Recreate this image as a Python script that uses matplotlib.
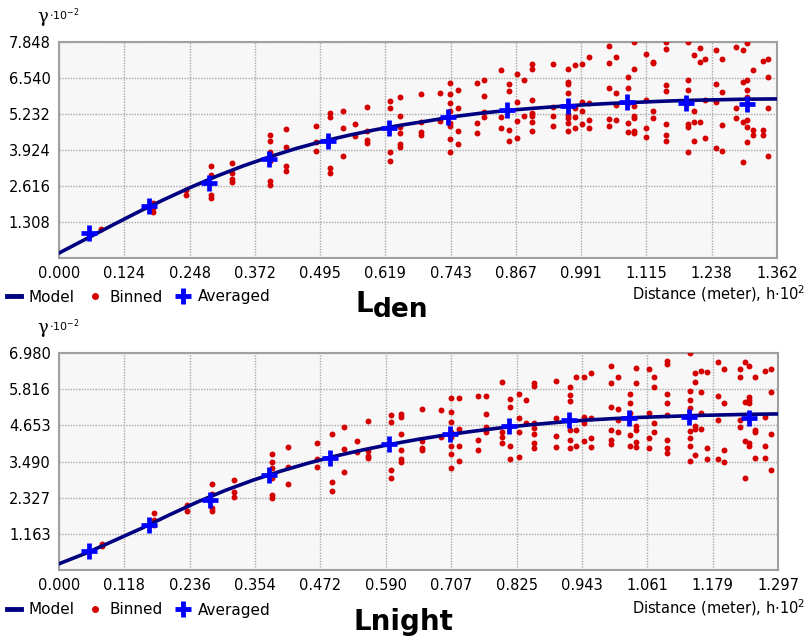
import numpy as np
import matplotlib
matplotlib.use("Agg")
import matplotlib.pyplot as plt
from matplotlib.lines import Line2D

# ---------------- data ----------------
# Lden panel
lden_xmax = 1.362
lden_ymax = 7.848
lden_xticklabels = ["0.000", "0.124", "0.248", "0.372", "0.495", "0.619", "0.743",
                    "0.867", "0.991", "1.115", "1.238", "1.362"]
lden_yticklabels = ["1.308", "2.616", "3.924", "5.232", "6.540", "7.848"]

lden_model_x = [0.0, 0.05, 0.10, 0.15, 0.20, 0.25, 0.30, 0.35, 0.40, 0.45, 0.50, 0.55,
                0.60, 0.65, 0.70, 0.75, 0.80, 0.85, 0.90, 0.95, 1.00, 1.05, 1.10, 1.15,
                1.20, 1.25, 1.30, 1.362]
lden_model_y = [0.18, 0.68, 1.18, 1.67, 2.13, 2.57, 2.98, 3.35, 3.68, 3.98, 4.24, 4.46,
                4.66, 4.83, 4.98, 5.14, 5.26, 5.36, 5.44, 5.51, 5.57, 5.62, 5.66, 5.70,
                5.73, 5.75, 5.77, 5.78]

lden_avg_x = [0.056, 0.170, 0.284, 0.398, 0.510, 0.626, 0.737, 0.850, 0.966, 1.078, 1.190, 1.306]
lden_avg_y = [0.90, 1.90, 2.71, 3.59, 4.26, 4.71, 5.11, 5.38, 5.54, 5.68, 5.64, 5.60]

lden_bin_x = [0.080, 0.179, 0.241, 0.289, 0.329, 0.401, 0.431, 0.488, 0.515, 0.538, 0.562,
              0.584, 0.627, 0.646, 0.687, 0.722, 0.741, 0.757, 0.792, 0.807, 0.839, 0.853,
              0.869, 0.882, 0.898, 0.938, 0.966, 0.978, 0.992, 1.006, 1.043, 1.056, 1.080,
              1.091, 1.114, 1.126, 1.151, 1.194, 1.204, 1.215, 1.225, 1.247, 1.258, 1.285,
              1.298, 1.305, 1.317, 1.335, 1.345]
lden_bin_y = [
    [1.04], [2.00, 1.83, 1.66], [2.47, 2.29], [3.34, 3.02, 2.29, 2.19],
    [3.44, 3.08, 2.86, 2.77], [4.47, 4.26, 3.84, 3.54, 2.80, 2.65], [4.68, 4.05, 3.34, 3.17],
    [4.81, 4.23, 3.89], [5.26, 5.14, 3.28, 3.08], [5.34, 4.71, 3.72], [4.87, 4.45],
    [5.50, 4.61, 4.29, 4.19], [5.70, 5.44, 3.84, 3.54], [5.84, 5.17, 4.75, 4.53, 4.13, 4.05],
    [5.96, 4.95, 4.56, 4.47], [6.01, 4.98], [6.35, 5.95, 5.64, 5.35, 4.89, 4.80, 4.31, 3.84],
    [6.10, 5.44, 4.63, 4.14], [6.37, 4.92, 4.55], [6.47, 5.90, 5.32, 5.14], [6.83, 5.14, 4.71],
    [6.31, 6.08, 4.65, 4.26], [6.67, 5.68, 4.98, 4.35], [6.47, 5.16],
    [7.05, 6.87, 5.74, 5.28, 5.16, 4.95, 4.63], [7.04, 5.50, 5.17, 4.81],
    [6.86, 6.41, 6.31, 6.01, 5.20, 5.08, 4.89, 4.63], [7.01, 5.44, 5.14, 4.71],
    [7.04, 5.66, 5.34, 4.87], [7.29, 5.62, 5.01, 4.71], [7.70, 7.07, 6.17, 5.05, 4.81],
    [7.29, 6.01, 5.56, 5.01], [6.57, 6.17, 5.62, 4.89, 4.57],
    [7.86, 6.87, 5.53, 5.17, 5.08, 4.63, 4.53], [7.43, 5.74, 4.71, 4.41],
    [7.13, 7.07, 5.34, 5.08], [7.86, 7.58, 6.29, 6.08, 4.87, 4.47, 4.26],
    [7.86, 6.47, 6.10, 5.62, 4.87, 4.75, 3.84], [7.37, 5.34, 4.95, 4.26], [7.64, 7.13, 4.95],
    [7.23, 5.74, 4.35], [7.56, 6.31, 5.68, 3.98], [7.23, 6.04, 4.83, 3.90], [7.65, 5.44, 5.08],
    [7.56, 6.41, 4.95, 3.50], [7.80, 6.47, 6.10, 5.86, 5.01, 4.75, 4.23], [6.83, 4.65, 4.47],
    [7.17, 4.65, 4.47], [7.23, 6.57, 5.44, 3.71]]

# Lnight panel
lnight_xmax = 1.297
lnight_ymax = 6.980
lnight_xticklabels = ["0.000", "0.118", "0.236", "0.354", "0.472", "0.590", "0.707",
                      "0.825", "0.943", "1.061", "1.179", "1.297"]
lnight_yticklabels = ["1.163", "2.327", "3.490", "4.653", "5.816", "6.980"]

lnight_model_x = [0.0, 0.05, 0.10, 0.15, 0.20, 0.25, 0.30, 0.35, 0.40, 0.45, 0.50, 0.55,
                  0.60, 0.65, 0.70, 0.75, 0.80, 0.85, 0.90, 0.95, 1.00, 1.05, 1.10, 1.15,
                  1.20, 1.25, 1.297]
lnight_model_y = [0.20, 0.55, 0.95, 1.35, 1.78, 2.19, 2.56, 2.89, 3.18, 3.44, 3.67, 3.87,
                  4.05, 4.21, 4.35, 4.47, 4.58, 4.67, 4.75, 4.82, 4.87, 4.91, 4.94, 4.97,
                  4.99, 5.01, 5.02]

lnight_avg_x = [0.054, 0.163, 0.272, 0.379, 0.488, 0.596, 0.706, 0.811, 0.920, 1.028, 1.137, 1.245]
lnight_avg_y = [0.60, 1.44, 2.24, 3.05, 3.61, 4.05, 4.36, 4.64, 4.82, 4.90, 4.93, 4.88]

lnight_bin_x = [0.077, 0.172, 0.231, 0.276, 0.315, 0.384, 0.413, 0.466, 0.492, 0.514, 0.537,
                0.558, 0.599, 0.617, 0.655, 0.689, 0.707, 0.722, 0.755, 0.770, 0.800, 0.813,
                0.829, 0.842, 0.857, 0.896, 0.921, 0.933, 0.947, 0.960, 0.995, 1.008, 1.030,
                1.041, 1.064, 1.074, 1.097, 1.138, 1.148, 1.159, 1.169, 1.189, 1.199, 1.228,
                1.238, 1.245, 1.255, 1.273, 1.284]
lnight_bin_y = [
    [0.85, 0.77], [1.82, 1.60, 1.44], [2.08, 1.90], [2.78, 2.46, 1.98, 1.89],
    [2.91, 2.51, 2.35], [3.74, 3.46, 3.27, 2.96, 2.41, 2.30], [3.96, 3.32, 2.78],
    [4.10, 3.57, 3.32], [4.36, 2.84, 2.55], [4.60, 3.88, 3.14], [4.15, 3.78],
    [4.78, 3.83, 3.67, 3.59], [4.98, 4.77, 3.23, 2.96], [5.02, 4.91, 4.37, 3.86, 3.57, 3.46],
    [5.19, 4.15, 3.93, 3.86], [5.15, 4.29], [5.52, 5.09, 4.77, 4.45, 4.29, 4.00, 3.73, 3.27],
    [5.52, 4.53, 4.00, 3.50], [5.60, 4.18, 3.86], [5.60, 5.01, 4.61, 4.45],
    [6.06, 4.45, 4.29, 4.10], [5.50, 5.23, 4.00, 3.56], [5.65, 4.88, 4.43, 3.64], [5.46, 4.72],
    [6.00, 5.92, 4.72, 4.58, 4.36, 4.10, 3.91], [6.09, 4.88, 4.32, 3.96],
    [5.88, 5.63, 5.43, 4.82, 4.50, 4.18, 3.91], [6.20, 4.50, 4.00], [6.20, 4.93, 4.74, 4.15],
    [6.33, 4.88, 4.26, 3.96], [6.56, 6.00, 5.23, 4.50, 4.18, 4.05], [6.20, 5.18, 4.82, 4.45],
    [5.65, 5.36, 5.06, 4.34, 4.00], [6.51, 6.00, 4.64, 4.50, 4.12, 3.96],
    [6.47, 5.04, 4.23, 3.91], [6.20, 5.88, 4.72, 4.45],
    [6.72, 6.63, 5.65, 5.36, 4.98, 4.18, 3.91, 3.75],
    [6.97, 5.77, 5.47, 5.22, 4.47, 4.25, 4.00, 3.50], [6.33, 6.06, 4.64, 4.53, 3.69],
    [6.41, 5.73, 5.04, 4.55], [6.36, 3.91, 3.56], [6.68, 5.61, 4.82, 3.56],
    [6.47, 5.36, 3.86, 3.46], [6.47, 6.20, 4.82, 4.59], [6.70, 5.41, 4.15, 2.96],
    [6.56, 5.56, 5.47, 5.36, 4.07, 4.00], [6.20, 4.50, 4.45, 3.59], [6.41, 4.91, 4.00, 3.59],
    [6.47, 5.73, 4.37, 3.23]]

# ---------------- styling ----------------
W, H = 809, 640
DPI = 100
fig = plt.figure(figsize=(W / DPI, H / DPI), dpi=DPI)

RED = "#d40000"
BLUE = "#0000ff"
NAVY = "#000080"


def fx(px):
    return px / W


def fy(py):
    return 1 - py / H


def panel(rect, xmax, ymax, xlabels, ylabels, mx, my, bx, by, ax_, ay_):
    ax = fig.add_axes(rect)
    ax.set_facecolor("#f7f7f7")
    ax.set_xlim(0, xmax)
    ax.set_ylim(0, ymax)
    ax.set_xticks(np.linspace(0, xmax, len(xlabels)))
    ax.set_xticklabels(xlabels)
    ax.set_yticks(np.linspace(0, ymax, len(ylabels) + 1)[1:])
    ax.set_yticklabels(ylabels)
    ax.tick_params(length=0, labelsize=10.5, pad=6, colors="black")
    ax.grid(True, linestyle=(0, (1, 1)), color="#aaaaaa", linewidth=1.0)
    ax.set_axisbelow(True)
    for s in ax.spines.values():
        s.set_color("#a0a0a0")
        s.set_linewidth(1.5)
    fx_list, fy_list = [], []
    for x, ys in zip(bx, by):
        for y in ys:
            fx_list.append(x)
            fy_list.append(y)
    ax.scatter(fx_list, fy_list, s=18, color=RED, zorder=3, linewidths=0)
    ax.plot(mx, my, color=NAVY, linewidth=2.6, zorder=4, solid_capstyle="round")
    ax.plot(ax_, ay_, linestyle="none", marker="+", markersize=12, markeredgewidth=3.4,
            color=BLUE, zorder=5)
    return ax


ax1 = panel([fx(59), fy(258), fx(777) - fx(59), fy(42) - fy(258)],
            lden_xmax, lden_ymax, lden_xticklabels, lden_yticklabels,
            lden_model_x, lden_model_y, lden_bin_x, lden_bin_y, lden_avg_x, lden_avg_y)
ax2 = panel([fx(59), fy(570), fx(778) - fx(59), fy(353) - fy(570)],
            lnight_xmax, lnight_ymax, lnight_xticklabels, lnight_yticklabels,
            lnight_model_x, lnight_model_y, lnight_bin_x, lnight_bin_y, lnight_avg_x, lnight_avg_y)

handles = [
    Line2D([], [], color=NAVY, linewidth=3.5),
    Line2D([], [], color=RED, marker="o", linestyle="none", markersize=4),
    Line2D([], [], color=BLUE, marker="+", linestyle="none", markersize=12, markeredgewidth=3.5),
]
labels = ["Model", "Binned", "Averaged"]

for ypx, ylab_px, gam_px in [(297, 294, 17), (610, 608, 328)]:
    fig.legend(handles, labels, loc="center left", bbox_to_anchor=(fx(7), fy(ypx)),
               ncol=3, frameon=False, fontsize=11, handlelength=0.9, handletextpad=0.5,
               columnspacing=0.9, borderpad=0, borderaxespad=0)
    fig.text(fx(805), fy(ylab_px), r"Distance (meter), h$\cdot$10$^2$", ha="right",
             va="center", fontsize=10.5)
    fig.text(fx(37), fy(gam_px), "γ", family="DejaVu Serif", fontsize=13, ha="left",
             va="center")
    fig.text(fx(49), fy(gam_px - 2), r"$\cdot$10$^{-2}$", fontsize=8, ha="left", va="center")

# titles
fig.text(fx(356), fy(312), "L", fontsize=20, fontweight="bold", ha="left", va="baseline")
fig.text(fx(373), fy(317), "den", fontsize=19, fontweight="bold", ha="left", va="baseline")
fig.text(fx(403), fy(630), "Lnight", fontsize=20, fontweight="bold", ha="center",
         va="baseline")

fig.savefig("out.png", dpi=DPI)
